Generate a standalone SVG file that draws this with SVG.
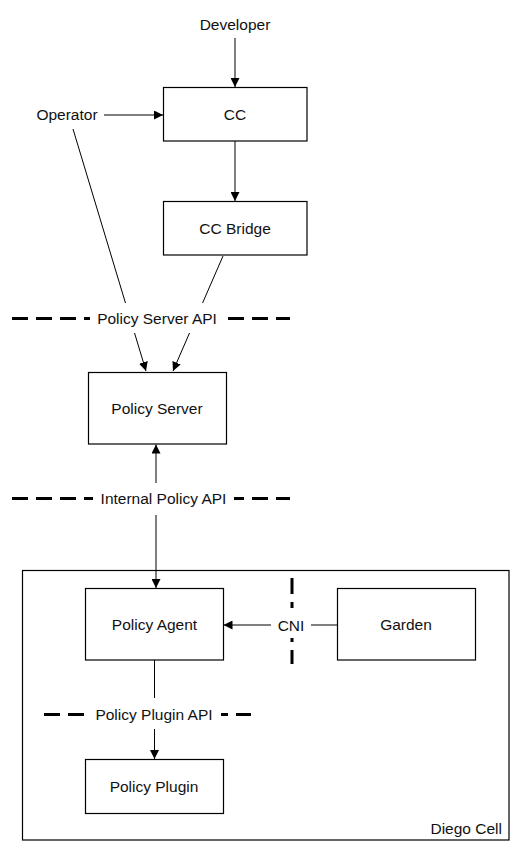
<svg xmlns="http://www.w3.org/2000/svg" width="519" height="851" viewBox="0 0 519 851">
<style>
.box{fill:#fff;stroke:#000;stroke-width:1.2}
.t{font-family:"Liberation Sans",Arial,Helvetica,sans-serif;font-size:15.5px;fill:#111;text-anchor:middle;dominant-baseline:central}
.c{stroke:#000;stroke-width:1;fill:none}
.d{stroke:#000;stroke-width:3;stroke-dasharray:16 8;fill:none}
.bg{fill:#fff}
</style>
<defs>
<marker id="ah" viewBox="0 0 10 10" refX="10" refY="5" markerWidth="9" markerHeight="9" markerUnits="userSpaceOnUse" orient="auto">
<path d="M0,0 L10,5 L0,10 Z" fill="#000"/>
</marker>
<marker id="ahs" viewBox="0 0 10 10" refX="0" refY="5" markerWidth="9" markerHeight="9" markerUnits="userSpaceOnUse" orient="auto">
<path d="M10,0 L0,5 L10,10 Z" fill="#000"/>
</marker>
</defs>
<rect width="519" height="851" fill="#fff"/>
<g id="diego-cell">
<rect x="22.5" y="570.5" width="486.5" height="269.5" fill="none" stroke="#000" stroke-width="1.2"/>
<text x="502" y="828" class="t" style="text-anchor:end">Diego Cell</text>
</g>
<g id="boundaries">
<line class="d" x1="12" y1="318.5" x2="290" y2="318.5"/>
<line class="d" x1="12" y1="498.5" x2="290" y2="498.5"/>
<line class="d" x1="44" y1="714.5" x2="251" y2="714.5"/>
<line class="d" x1="292" y1="578" x2="292" y2="664"/>
</g>
<g id="connectors">
<line class="c" x1="235" y1="38" x2="235" y2="87" marker-end="url(#ah)"/>
<line class="c" x1="104" y1="115" x2="163" y2="115" marker-end="url(#ah)"/>
<line class="c" x1="235" y1="141" x2="235" y2="201" marker-end="url(#ah)"/>
<line class="c" x1="73" y1="129" x2="146" y2="371" marker-end="url(#ah)"/>
<line class="c" x1="223" y1="256" x2="173" y2="371" marker-end="url(#ah)"/>
<line class="c" x1="156" y1="444.5" x2="156" y2="588" marker-start="url(#ahs)" marker-end="url(#ah)"/>
<line class="c" x1="337" y1="625" x2="223.5" y2="625" marker-end="url(#ah)"/>
<line class="c" x1="154.5" y1="660" x2="154.5" y2="759" marker-end="url(#ah)"/>
</g>
<g id="labels">
<rect class="bg" x="90" y="303" width="138" height="30"/>
<text class="t" x="157" y="318">Policy Server API</text>
<rect class="bg" x="93" y="483" width="141" height="32"/>
<text class="t" x="163.5" y="498">Internal Policy API</text>
<rect class="bg" x="84" y="698" width="137" height="31"/>
<text class="t" x="154" y="714">Policy Plugin API</text>
<rect class="bg" x="271" y="608" width="40" height="30"/>
<text class="t" x="291" y="625">CNI</text>
</g>
<g id="developer"><text class="t" x="235" y="24">Developer</text></g>
<g id="operator"><text class="t" x="67" y="114.5">Operator</text></g>
<g id="cc"><rect class="box" x="163.5" y="87.5" width="143.5" height="53.5"/><text class="t" x="235" y="114.5">CC</text></g>
<g id="cc-bridge"><rect class="box" x="163.5" y="201.5" width="143.5" height="53.5"/><text class="t" x="235" y="228.5">CC Bridge</text></g>
<g id="policy-server"><rect class="box" x="88.5" y="372.5" width="138" height="71.5"/><text class="t" x="157" y="408.5">Policy Server</text></g>
<g id="policy-agent"><rect class="box" x="85.5" y="588.5" width="138" height="71.5"/><text class="t" x="154.5" y="624.5">Policy Agent</text></g>
<g id="garden"><rect class="box" x="337.5" y="588.5" width="138" height="71.5"/><text class="t" x="406" y="624.5">Garden</text></g>
<g id="policy-plugin"><rect class="box" x="85.5" y="759.5" width="138" height="54"/><text class="t" x="154" y="786.5">Policy Plugin</text></g>
</svg>
